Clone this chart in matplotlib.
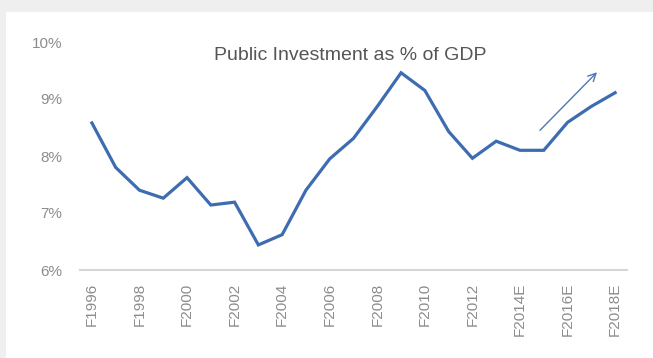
import matplotlib
matplotlib.use("Agg")
import matplotlib.pyplot as plt
from matplotlib.patches import Rectangle

plt.rcParams['font.family'] = ['Liberation Sans', 'DejaVu Sans']

years = ["F1996", "F1997", "F1998", "F1999", "F2000", "F2001", "F2002", "F2003",
         "F2004", "F2005", "F2006", "F2007", "F2008", "F2009", "F2010", "F2011",
         "F2012", "F2013", "F2014E", "F2015E", "F2016E", "F2017E", "F2018E"]
investment_pct = [8.58, 7.80, 7.40, 7.26, 7.62, 7.14, 7.19, 6.44, 6.62, 7.40,
                  7.95, 8.31, 8.87, 9.46, 9.15, 8.43, 7.96, 8.26, 8.10, 8.10,
                  8.59, 8.87, 9.11]
yticks = [6, 7, 8, 9, 10]
title = "Public Investment as % of GDP"
arrow_start = (18.84, 8.45)
arrow_end = (21.24, 9.47)

W, H = 653, 358
fig = plt.figure(figsize=(W / 100, H / 100), dpi=100)
fig.patch.set_facecolor('#efefef')
fig.patches.append(Rectangle((6 / W, 0), 1, 1 - 12 / H, transform=fig.transFigure,
                             facecolor='white', edgecolor='none', zorder=-5))

ax = fig.add_axes([80 / W, 1 - 270 / H, (627 - 80) / W, (270 - 42) / H])
ax.set_zorder(2)
ax.set_facecolor('none')
x = list(range(len(years)))
ax.plot(x, investment_pct, color='#3d6cb0', lw=2.3, solid_joinstyle='miter', clip_on=False)

ax.annotate('', xy=arrow_end, xytext=arrow_start,
            arrowprops=dict(arrowstyle='->', color='#4a78b8', lw=1.0,
                            mutation_scale=14, shrinkA=0, shrinkB=0))

ax.set_xlim(-0.5, len(years) - 0.5)
ax.set_ylim(6, 10)
ax.set_yticks(yticks)
ax.set_yticklabels([f"{v}%" for v in yticks])
ax.set_xticks(x[::2])
ax.set_xticklabels(years[::2], rotation=90)
ax.tick_params(axis='both', length=0, labelsize=11, labelcolor='#8c8c8c')
ax.tick_params(axis='y', pad=13)
ax.tick_params(axis='x', pad=9)
for s in ['top', 'right', 'left']:
    ax.spines[s].set_visible(False)
ax.spines['bottom'].set_color('#d6d6d6')
ax.spines['bottom'].set_linewidth(1.5)

fig.text(350 / W, 1 - 56 / H, title, ha='center', va='center',
         fontsize=14, color='#555555', zorder=3)

fig.savefig('out.png', dpi=100, facecolor=fig.get_facecolor())
